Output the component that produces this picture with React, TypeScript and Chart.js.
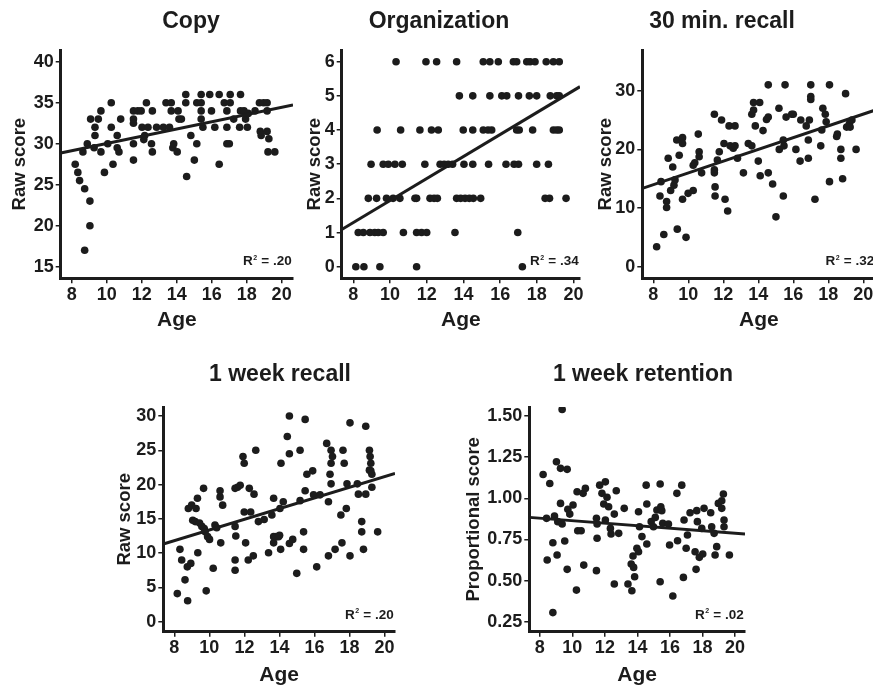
import React, { useEffect, useRef } from 'react';
import { Chart, registerables } from 'chart.js';

Chart.register(...registerables);

const FONT = '"Liberation Sans", Arial, Helvetica, sans-serif';
const INK = '#1c1c1c';

// ---------- data ----------
const ageTicks = [8, 10, 12, 14, 16, 18, 20];
const ageTickLabels = ['8', '10', '12', '14', '16', '18', '20'];

const copyTicks = [15, 20, 25, 30, 35, 40];
const copyTickLabels = ['15', '20', '25', '30', '35', '40'];
const copyPoints: [number, number][] = [
  [8.2, 27.5], [8.35, 26.5], [8.45, 25.5], [8.64, 29], [8.74, 24.5], [8.74, 17], [8.89, 30], [9.04, 23], [9.04, 20], [9.08, 33],
  [9.33, 32], [9.33, 31], [9.28, 29.5], [9.52, 33], [9.67, 29], [9.67, 34], [9.87, 26.5], [10.06, 30], [10.26, 35], [10.26, 32],
  [10.36, 27.5], [10.6, 31], [10.6, 29.5], [10.7, 29], [10.8, 33], [11.53, 34], [11.53, 33], [11.53, 32.5], [11.53, 30], [11.53, 28],
  [11.78, 34], [11.97, 34], [12.12, 30.5], [12.17, 31], [12.02, 32], [12.27, 35], [12.36, 32], [12.61, 34], [12.56, 30], [12.61, 29],
  [12.85, 32], [13.24, 32], [13.39, 35], [13.59, 32], [13.69, 35], [13.69, 34], [13.78, 29.5], [13.83, 30], [14.03, 29], [14.08, 34],
  [14.13, 33], [14.27, 33], [14.52, 36], [14.52, 35], [14.57, 26], [14.81, 31], [15.15, 35], [15.15, 30], [15.01, 28], [15.4, 36],
  [15.4, 35], [15.4, 34], [15.4, 33], [15.5, 32], [15.89, 36], [15.99, 34], [16.18, 32], [16.43, 36], [16.43, 27.5], [16.72, 35],
  [16.87, 34], [16.87, 32], [16.87, 30], [17.06, 36], [17.06, 35], [17.01, 30], [17.26, 33], [17.65, 36], [17.65, 34], [17.6, 32],
  [17.85, 34], [17.94, 33], [18.04, 32], [18.09, 33.7], [18.48, 34], [18.73, 35], [18.78, 31.5], [18.83, 31], [18.97, 35], [19.17, 35],
  [19.17, 34], [19.17, 31.5], [19.27, 30.6], [19.22, 29], [19.61, 29],
];
const copyFit: [number, number][] = [[7.37, 28.86], [20.65, 34.72]];
const copyR2 = '.20';

const orgTicks = [0, 1, 2, 3, 4, 5, 6];
const orgTickLabels = ['0', '1', '2', '3', '4', '5', '6'];
const orgPoints: [number, number][] = [
  [10.33, 6], [11.96, 6], [12.54, 6], [13.63, 6], [15.08, 6], [15.44, 6], [15.9, 6], [16.72, 6], [16.9, 6], [17.45, 6], [17.63, 6], [17.9, 6], [18.51, 6], [18.9, 6], [19.22, 6],
  [13.78, 5], [14.51, 5], [15.44, 5], [16.09, 5], [16.36, 5], [17.0, 5], [17.59, 5], [17.99, 5], [18.73, 5], [19.08, 5], [19.22, 5],
  [9.3, 4], [10.58, 4], [11.63, 4], [12.26, 4], [12.63, 4], [13.99, 4], [14.51, 4], [15.08, 4], [15.34, 4], [15.54, 4], [16.9, 4], [17.04, 4], [17.77, 4], [18.9, 4], [19.08, 4], [19.22, 4],
  [8.97, 3], [9.63, 3], [9.91, 3], [10.27, 3], [10.67, 3], [11.9, 3], [12.73, 3], [12.95, 3], [13.17, 3], [13.41, 3], [14.03, 3], [14.51, 3], [15.37, 3], [16.32, 3], [16.76, 3], [17.0, 3], [17.99, 3], [18.63, 3],
  [8.82, 2], [9.27, 2], [9.81, 2], [10.17, 2], [10.54, 2], [11.36, 2], [11.45, 2], [12.18, 2], [12.4, 2], [12.58, 2], [13.63, 2], [13.85, 2], [14.09, 2], [14.32, 2], [14.54, 2], [14.94, 2], [18.45, 2], [18.69, 2], [19.59, 2],
  [8.27, 1], [8.55, 1], [8.91, 1], [9.17, 1], [9.36, 1], [9.63, 1], [10.73, 1], [11.45, 1], [11.72, 1], [12.0, 1], [13.54, 1], [16.96, 1],
  [8.14, 0], [8.58, 0], [9.45, 0], [11.45, 0], [17.21, 0],
];
const orgFit: [number, number][] = [[7.37, 1.09], [20.35, 5.27]];
const orgR2 = '.34';

const recall30Ticks = [0, 10, 20, 30];
const recall30TickLabels = ['0', '10', '20', '30'];
const recall30Points: [number, number][] = [
  [8.19, 3.4], [8.38, 12.05], [8.44, 14.5], [8.6, 5.5], [8.76, 11.1], [8.76, 10.1], [8.85, 18.5], [8.99, 13.0], [9.11, 17.0], [9.18, 13.9],
  [9.24, 14.8], [9.34, 21.6], [9.37, 6.4], [9.48, 19.0], [9.62, 21.6], [9.67, 11.5], [9.67, 22.0], [9.67, 21.0], [9.87, 5.0], [9.99, 12.5],
  [10.28, 13.0], [10.28, 17.3], [10.37, 17.7], [10.57, 22.6], [10.62, 19.6], [10.62, 18.75], [10.76, 16.0], [11.49, 26.0], [11.49, 16.5], [11.49, 16.0],
  [11.53, 13.6], [11.53, 12.05], [11.66, 18.2], [11.77, 19.6], [11.9, 25.0], [12.04, 21.0], [12.1, 11.5], [12.25, 9.5], [12.33, 24.0], [12.39, 20.6],
  [12.57, 20.2], [12.67, 24.0], [12.67, 20.6], [12.81, 18.5], [13.15, 16.0], [13.43, 21.0], [13.63, 20.6], [13.63, 26.0], [13.73, 26.7], [13.73, 28.0],
  [13.83, 24.0], [14.0, 18.0], [14.08, 28.0], [14.11, 15.5], [14.27, 23.2], [14.47, 25.1], [14.57, 25.5], [14.57, 16.0], [14.57, 31.0], [14.82, 14.1],
  [15.01, 8.5], [15.18, 27.0], [15.2, 20.0], [15.43, 12.05], [15.43, 21.6], [15.53, 31.0], [15.47, 20.6], [15.59, 25.5], [15.91, 26.0], [16.0, 26.0],
  [16.15, 20.0], [16.39, 18.0], [16.43, 25.0], [16.74, 24.0], [16.86, 18.5], [16.86, 21.6], [16.92, 25.0], [17.0, 31.0], [17.0, 29.0], [17.0, 28.5],
  [17.24, 11.5], [17.57, 20.6], [17.63, 23.3], [17.69, 27.0], [17.83, 26.0], [17.88, 24.7], [18.07, 14.5], [18.07, 31.0], [18.48, 22.2], [18.52, 22.6],
  [18.72, 20.0], [18.72, 18.5], [18.82, 15.0], [18.99, 29.5], [19.05, 23.8], [19.21, 24.4], [19.25, 23.8], [19.35, 25.0], [19.59, 20.0],
];
const recall30Fit: [number, number][] = [[7.37, 13.35], [20.7, 26.72]];
const recall30R2 = '.32';

const weekTicks = [0, 5, 10, 15, 20, 25, 30];
const weekTickLabels = ['0', '5', '10', '15', '20', '25', '30'];
const weekPoints: [number, number][] = [
  [8.17, 4.1], [8.32, 10.55], [8.42, 9.0], [8.61, 6.1], [8.74, 8.0], [8.76, 3.06], [8.8, 16.5], [8.94, 8.5], [8.99, 17.0], [9.05, 14.8],
  [9.19, 14.6], [9.24, 16.5], [9.32, 18.0], [9.34, 10.06], [9.44, 14.4], [9.57, 13.9], [9.67, 19.45], [9.71, 13.6], [9.76, 13.1], [9.82, 4.5],
  [9.9, 12.4], [10.01, 12.0], [10.22, 7.8], [10.32, 14.1], [10.42, 13.7], [10.61, 19.1], [10.61, 18.2], [10.65, 11.5], [10.76, 17.0], [11.47, 19.45],
  [11.47, 13.9], [11.51, 12.5], [11.47, 9.0], [11.47, 7.5], [11.61, 19.6], [11.76, 19.9], [11.92, 24.1], [11.99, 23.1], [11.99, 16.0], [12.07, 11.5],
  [12.22, 9.0], [12.28, 19.45], [12.36, 16.0], [12.51, 9.6], [12.55, 18.6], [12.65, 25.0], [12.8, 14.6], [13.13, 14.9], [13.38, 10.06], [13.57, 15.55],
  [13.67, 18.0], [13.67, 12.4], [13.67, 11.5], [13.82, 12.4], [13.95, 12.4], [14.01, 12.6], [14.03, 16.5], [14.07, 10.55], [14.09, 23.1], [14.22, 17.5],
  [14.45, 27.0], [14.57, 30.0], [14.57, 24.5], [14.57, 11.4], [14.76, 12.0], [14.99, 7.05], [15.18, 25.0], [15.18, 17.65], [15.38, 13.1], [15.38, 10.55],
  [15.47, 29.5], [15.47, 19.1], [15.57, 21.5], [15.9, 22.0], [16.13, 8.0], [15.95, 18.5], [16.32, 18.5], [16.7, 26.0], [16.8, 17.5], [16.8, 9.6],
  [16.89, 21.5], [16.95, 25.0], [16.95, 23.1], [16.95, 20.1], [17.03, 24.1], [17.18, 10.55], [17.51, 15.55], [17.57, 11.5], [17.63, 25.0], [17.7, 23.1],
  [17.82, 16.5], [17.86, 20.1], [18.03, 9.6], [18.03, 29.0], [18.45, 20.1], [18.51, 18.6], [18.7, 14.6], [18.7, 13.1], [18.8, 10.55], [18.93, 28.5],
  [18.93, 18.6], [19.14, 25.0], [19.14, 22.1], [19.18, 24.1], [19.22, 23.1], [19.22, 22.0], [19.28, 21.5], [19.28, 19.6], [19.61, 13.1],
];
const weekFit: [number, number][] = [[7.37, 11.33], [20.6, 21.63]];
const weekR2 = '.20';

const retTicks = [0.25, 0.5, 0.75, 1.0, 1.25, 1.5];
const retTickLabels = ['0.25', '0.50', '0.75', '1.00', '1.25', '1.50'];
const retPoints: [number, number][] = [
  [8.2, 1.145], [8.41, 0.878], [8.45, 0.625], [8.61, 1.09], [8.8, 0.73], [8.8, 0.305], [8.9, 0.892], [9.02, 1.222], [9.06, 0.655], [9.1, 0.858],
  [9.27, 1.182], [9.27, 0.969], [9.37, 1.54], [9.37, 0.844], [9.53, 0.74], [9.68, 1.176], [9.68, 0.568], [9.72, 0.933], [9.84, 0.904], [10.04, 0.959],
  [10.25, 0.442], [10.29, 1.04], [10.33, 0.803], [10.54, 0.803], [10.66, 1.03], [10.7, 0.594], [10.8, 1.06], [11.48, 0.56], [11.48, 0.878], [11.52, 0.757],
  [11.52, 0.844], [11.68, 1.08], [11.82, 1.03], [12.03, 1.1], [12.03, 0.868], [11.93, 0.965], [12.13, 1.006], [12.23, 0.949], [12.34, 0.817], [12.38, 0.783],
  [12.58, 0.479], [12.58, 0.904], [12.7, 1.046], [12.85, 0.787], [13.19, 0.939], [13.42, 0.479], [13.62, 0.6], [13.66, 0.438], [13.73, 0.649], [13.77, 0.58],
  [13.83, 0.523], [13.97, 0.696], [14.07, 0.675], [14.07, 0.918], [14.13, 0.827], [14.28, 0.767], [14.54, 1.08], [14.58, 0.965], [14.58, 0.722], [14.85, 0.858],
  [14.99, 0.827], [15.1, 0.884], [15.2, 0.929], [15.4, 0.493], [15.4, 1.087], [15.44, 0.949], [15.5, 0.925], [15.56, 0.848], [15.91, 0.844], [15.98, 0.716],
  [16.18, 0.406], [16.43, 1.03], [16.47, 0.742], [16.73, 1.08], [16.83, 0.519], [16.87, 0.868], [17.0, 0.696], [17.08, 0.777], [17.24, 0.912], [17.55, 0.675],
  [17.61, 0.568], [17.65, 0.925], [17.69, 0.858], [17.81, 0.641], [17.96, 0.817], [18.02, 0.661], [18.1, 0.939], [18.51, 0.912], [18.57, 0.827], [18.72, 0.787],
  [18.78, 0.655], [18.88, 0.706], [18.98, 0.969], [19.19, 0.939], [19.19, 0.985], [19.29, 1.026], [19.33, 0.868], [19.33, 0.827], [19.66, 0.655],
];
const retFit: [number, number][] = [[7.35, 0.884], [20.62, 0.783]];
const retR2 = '.02';

// ---------- layout (page pixels) ----------
type Panel = {
  title: string; yTitle: string; r2: string;
  points: [number, number][]; fit: [number, number][];
  yTicks: number[]; yTickLabels: string[];
  xMin: number; xMax: number; yMin: number; yMax: number;
  caL: number; caR: number; caT: number; caB: number;
  yTitleX: number; titleX: number; titleY: number; ageY: number;
};

const panels: Panel[] = [
  { title: 'Copy', yTitle: 'Raw score', r2: copyR2, points: copyPoints, fit: copyFit, yTicks: copyTicks, yTickLabels: copyTickLabels,
    xMin: 7.37, xMax: 20.65, yMin: 13.585, yMax: 41.43, caL: 60.7, caR: 293, caT: 50, caB: 278.3,
    yTitleX: 20, titleX: 191, titleY: 22, ageY: 320.4 },
  { title: 'Organization', yTitle: 'Raw score', r2: orgR2, points: orgPoints, fit: orgFit, yTicks: orgTicks, yTickLabels: orgTickLabels,
    xMin: 7.37, xMax: 20.35, yMin: -0.339, yMax: 6.342, caL: 341.7, caR: 580, caT: 50, caB: 278.3,
    yTitleX: 315, titleX: 439, titleY: 22, ageY: 320.4 },
  { title: '30 min. recall', yTitle: 'Raw score', r2: recall30R2, points: recall30Points, fit: recall30Fit, yTicks: recall30Ticks, yTickLabels: recall30TickLabels,
    xMin: 7.37, xMax: 20.7, yMin: -1.977, yMax: 36.94, caL: 642.3, caR: 875.5, caT: 50, caB: 278.3,
    yTitleX: 605.5, titleX: 722, titleY: 22, ageY: 320.4 },
  { title: '1 week recall', yTitle: 'Raw score', r2: weekR2, points: weekPoints, fit: weekFit, yTicks: weekTicks, yTickLabels: weekTickLabels,
    xMin: 7.37, xMax: 20.6, yMin: -1.458, yMax: 31.31, caL: 163.3, caR: 395, caT: 407, caB: 631.7,
    yTitleX: 124.5, titleX: 280, titleY: 375, ageY: 675 },
  { title: '1 week retention', yTitle: 'Proportional score', r2: retR2, points: retPoints, fit: retFit, yTicks: retTicks, yTickLabels: retTickLabels,
    xMin: 7.35, xMax: 20.62, yMin: 0.189, yMax: 1.555, caL: 529.3, caR: 745, caT: 407, caB: 631.7,
    yTitleX: 474, titleX: 643, titleY: 375, ageY: 675 },
];

const TICK_FONT = 18;
const YTITLE_FONT = 18.5;
const XTITLE_FONT = 21;
const TITLE_FONT = 23;

const panelTextPlugin = {
  id: 'panelText',
  afterDraw(chart: any, _args: any, opts: any) {
    const { ctx, chartArea } = chart;
    ctx.save();
    ctx.fillStyle = INK;
    ctx.font = `bold ${TITLE_FONT}px ${FONT}`;
    ctx.textAlign = 'center';
    ctx.textBaseline = 'middle';
    ctx.fillText(opts.title, opts.titleX, opts.titleY);

    const bigFont = `bold 13.5px ${FONT}`;
    const supFont = `bold 7px ${FONT}`;
    const rest = ` = ${opts.r2}`;
    ctx.textAlign = 'left';
    ctx.textBaseline = 'alphabetic';
    ctx.font = bigFont;
    const wR = ctx.measureText('R').width;
    const wRest = ctx.measureText(rest).width;
    ctx.font = supFont;
    const wSup = ctx.measureText('2').width;
    const right = chartArea.right - 1.3;
    const base = chartArea.bottom - 13;
    let x = right - (wR + wSup + 1 + wRest);
    ctx.font = bigFont;
    ctx.fillText('R', x, base);
    x += wR + 0.5;
    ctx.font = supFont;
    ctx.fillText('2', x, base - 5.5);
    x += wSup + 0.5;
    ctx.font = bigFont;
    ctx.fillText(rest, x, base);
    ctx.restore();
  },
};

function PanelChart({ p }: { p: Panel }) {
  const ref = useRef<HTMLCanvasElement | null>(null);

  const L = Math.round(p.yTitleX - 14);
  const T = Math.round(p.titleY - 20);
  const R = Math.round(p.caR + 10);
  const B = Math.round(p.ageY + 16);
  const W = R - L;
  const H = B - T;

  useEffect(() => {
    if (!ref.current) return;
    const yLH = YTITLE_FONT * 1.2;
    const xLH = XTITLE_FONT * 1.2;
    const Wy = p.caL - L;
    const Hx = B - p.caB;
    const padT = p.caT - T;
    const padR = R - p.caR;
    const yTitlePad = p.yTitleX - L - yLH / 2;
    const xTitlePad = B - p.ageY - xLH / 2;

    const grid = { display: true, drawOnChartArea: false, drawTicks: true, tickLength: 5, lineWidth: 1.5, color: INK };
    const border = { display: true, width: 3, color: INK };
    const tickFont = { family: FONT, size: TICK_FONT, weight: 'bold' as const };

    const chart = new Chart(ref.current, {
      type: 'scatter',
      data: {
        datasets: [
          {
            data: p.points.map(([x, y]) => ({ x, y })),
            pointRadius: 3.8,
            pointHoverRadius: 3.8,
            backgroundColor: INK,
            borderWidth: 0,
            order: 2,
          },
          {
            data: p.fit.map(([x, y]) => ({ x, y })),
            showLine: true,
            borderColor: INK,
            borderWidth: 3,
            pointRadius: 0,
            pointHoverRadius: 0,
            fill: false,
            order: 1,
          },
        ],
      },
      options: {
        responsive: false,
        maintainAspectRatio: false,
        animation: false,
        events: [],
        devicePixelRatio: 1,
        layout: { padding: { left: 0, top: padT, right: padR, bottom: 0 } },
        plugins: {
          legend: { display: false },
          tooltip: { enabled: false },
          title: { display: false },
          panelText: { title: p.title, titleX: p.titleX - L, titleY: p.titleY - T, r2: p.r2 },
        } as any,
        scales: {
          x: {
            type: 'linear',
            position: 'bottom',
            min: p.xMin,
            max: p.xMax,
            afterBuildTicks: (s: any) => { s.ticks = ageTicks.map((v) => ({ value: v })); },
            afterFit: (s: any) => { s.height = Hx; },
            ticks: {
              autoSkip: false, maxRotation: 0, minRotation: 0, padding: 1, color: INK, font: tickFont,
              callback: (_v: any, i: number) => ageTickLabels[i],
            },
            grid, border,
            title: { display: true, text: 'Age', color: INK, font: { family: FONT, size: XTITLE_FONT, weight: 'bold' }, padding: { top: 0, bottom: xTitlePad } },
          },
          y: {
            type: 'linear',
            position: 'left',
            min: p.yMin,
            max: p.yMax,
            afterBuildTicks: (s: any) => { s.ticks = p.yTicks.map((v) => ({ value: v })); },
            afterFit: (s: any) => { s.width = Wy; },
            ticks: {
              autoSkip: false, padding: 2, color: INK, font: tickFont,
              callback: (_v: any, i: number) => p.yTickLabels[i],
            },
            grid, border,
            title: { display: true, text: p.yTitle, color: INK, font: { family: FONT, size: YTITLE_FONT, weight: 'bold' }, padding: { top: yTitlePad, bottom: 0 } },
          },
        },
      } as any,
      plugins: [panelTextPlugin],
    });
    return () => chart.destroy();
  }, []);

  return (
    <canvas
      ref={ref}
      width={W}
      height={H}
      style={{ position: 'absolute', left: L, top: T, width: W, height: H }}
    />
  );
}

export default function App() {
  return (
    <div style={{ position: 'absolute', left: 0, top: 0, width: 873, height: 686, overflow: 'hidden', background: '#ffffff' }}>
      {panels.map((p, i) => (
        <PanelChart key={i} p={p} />
      ))}
    </div>
  );
}
